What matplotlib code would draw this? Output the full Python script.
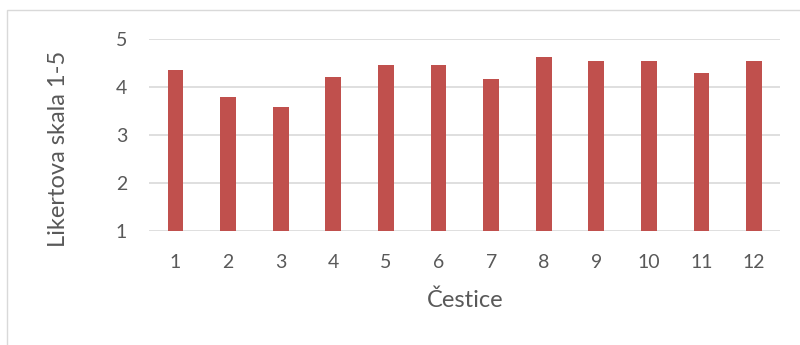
import matplotlib.pyplot as plt
from matplotlib.patches import Rectangle

# prosjecna ocjena po cestici
cestice = ["1", "2", "3", "4", "5", "6", "7", "8", "9", "10", "11", "12"]
ocjene = [4.37, 3.79, 3.58, 4.21, 4.46, 4.46, 4.17, 4.63, 4.54, 4.54, 4.29, 4.54]

plt.rcParams["font.family"] = ["Lato", "DejaVu Sans"]
text_color = "#595959"
grid_color = "#d9d9d9"

fig = plt.figure(figsize=(8, 3.45), dpi=100)
fig.patches.append(Rectangle((7 / 800, -0.1), 1.0, 1 - 10 / 345 + 0.1,
                             transform=fig.transFigure, fill=False,
                             edgecolor=grid_color, linewidth=1))

ax = fig.add_axes([0.1866, 0.3296, 0.789, 0.5566])
x = range(len(cestice))
ax.bar(x, ocjene, width=0.3, bottom=0, color="#C0504D", zorder=3)

ax.set_xlim(-0.5, len(cestice) - 0.5)
ax.set_ylim(1, 5)
ax.set_yticks([1, 2, 3, 4, 5])
ax.set_xticks(list(x))
ax.set_xticklabels(cestice)
ax.yaxis.grid(True, color=grid_color, linewidth=1.2, zorder=0)
for side in ["top", "right", "left", "bottom"]:
    ax.spines[side].set_visible(False)
ax.tick_params(axis="both", length=0, labelsize=14, colors=text_color)
ax.tick_params(axis="x", pad=16)
ax.tick_params(axis="y", pad=16)

ax.set_xlabel("Čestice", fontsize=17, color=text_color, va="center")
ax.xaxis.set_label_coords(0.5, -0.358)
ax.set_ylabel("Likertova skala 1-5", fontsize=17, color=text_color, va="center")
ax.yaxis.set_label_coords(-0.1446, 0.43)

fig.savefig("out.png", dpi=100)
